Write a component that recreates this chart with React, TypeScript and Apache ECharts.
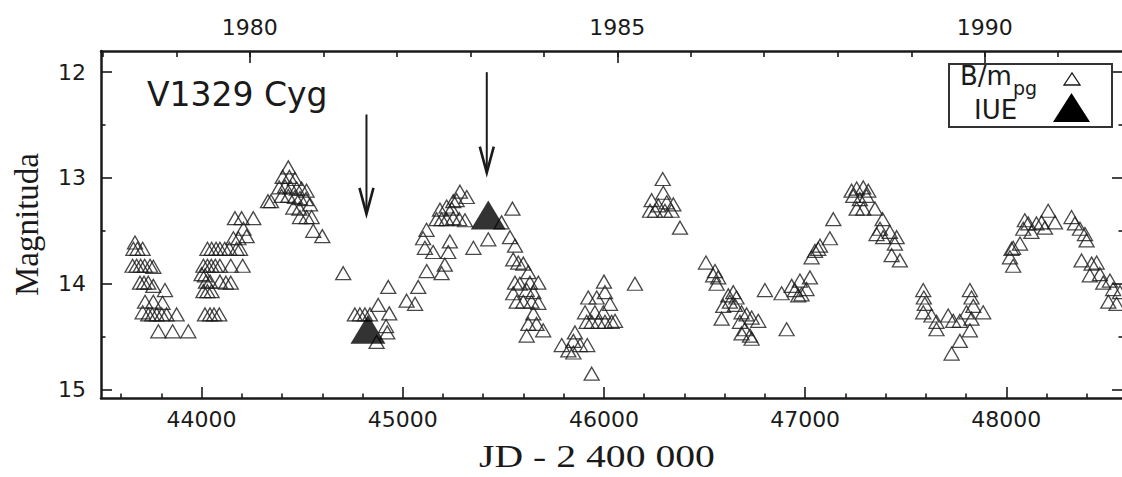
import React, { useEffect, useRef } from "react";
import * as echarts from "echarts";

// B / m_pg photometry, grouped by light-curve cycle: [JD - 2400000, magnitude]
const cycleA = [[43669,13.61],[43661,13.67],[43681,13.67],[43707,13.67],[43657,13.83],[43677,13.83],[43697,13.83],[43717,13.83],[43744,13.83],[43760,13.84],[43694,13.99],[43714,13.99],[43735,13.99],[43760,14.02],[43818,14.06],[43719,14.17],[43760,14.17],[43806,14.18],[43707,14.27],[43735,14.29],[43755,14.29],[43777,14.29],[43802,14.29],[43826,14.29],[43876,14.29],[43785,14.45],[43856,14.45],[43934,14.45]];
const cycleB = [[44017,14.29],[44042,14.29],[44062,14.29],[44088,14.29],[44009,14.07],[44029,14.07],[44050,14.07],[44000,13.91],[44017,13.92],[44022,13.98],[44042,13.98],[44091,13.98],[44121,13.99],[44145,13.99],[44009,13.83],[44029,13.83],[44048,13.83],[44068,13.83],[44091,13.83],[44145,13.83],[44204,13.83],[44029,13.67],[44050,13.67],[44072,13.67],[44091,13.67],[44115,13.67],[44138,13.67],[44174,13.67],[44191,13.67],[44158,13.57],[44183,13.57],[44224,13.55],[44208,13.48],[44166,13.38],[44199,13.38],[44257,13.38]];
const cycleC = [[44431,12.90],[44403,12.99],[44436,12.99],[44464,13.01],[44386,13.09],[44415,13.08],[44443,13.09],[44473,13.10],[44497,13.10],[44522,13.12],[44398,13.17],[44431,13.17],[44464,13.18],[44489,13.19],[44519,13.20],[44330,13.22],[44345,13.22],[44456,13.28],[44486,13.29],[44489,13.37],[44522,13.37],[44539,13.25],[44547,13.37],[44555,13.50],[44600,13.55],[44704,13.90]];
const cycleD = [[44762,14.29],[44787,14.29],[44812,14.29],[44837,14.29],[44878,14.20],[44928,14.03],[44933,14.28],[44917,14.40],[44923,14.46],[44870,14.55],[45019,14.16],[45061,14.19],[45077,14.03],[45119,13.88],[45193,13.90],[45209,13.82],[45110,13.66],[45151,13.70],[45226,13.70],[45234,13.60],[45101,13.57],[45118,13.49],[45168,13.39],[45193,13.39],[45218,13.39],[45251,13.38],[45281,13.39],[45309,13.40],[45185,13.30],[45218,13.27],[45251,13.22],[45268,13.21],[45243,13.29],[45284,13.13],[45318,13.18],[45351,13.66],[45425,13.58],[45545,13.29]];
const cycleE = [[45491,13.42],[45533,13.56],[45558,13.64],[45549,13.77],[45574,13.80],[45599,13.81],[45624,13.89],[45632,13.99],[45674,13.99],[45558,13.99],[45582,14.00],[45616,14.06],[45649,14.08],[45549,14.09],[45566,14.17],[45599,14.17],[45640,14.17],[45674,14.18],[45649,14.28],[45624,14.38],[45665,14.38],[45698,14.44],[45616,14.49]];
const cycleF = [[45790,14.58],[45823,14.63],[45848,14.54],[45856,14.46],[45881,14.58],[45917,14.58],[45848,14.65],[45939,14.85],[45914,14.36],[45939,14.36],[45972,14.36],[46005,14.36],[46038,14.36],[46055,14.35],[45906,14.27],[45955,14.27],[45997,14.27],[46030,14.19],[45922,14.13],[45964,14.13],[46005,14.08],[46000,13.98],[46154,14.00]];
const cycleG = [[46292,13.01],[46295,13.14],[46237,13.21],[46270,13.26],[46312,13.23],[46345,13.25],[46229,13.31],[46254,13.31],[46303,13.31],[46336,13.31],[46378,13.47]];
const cycleH = [[46507,13.80],[46552,13.88],[46543,13.92],[46568,13.94],[46560,14.00],[46618,14.11],[46643,14.08],[46659,14.13],[46593,14.21],[46626,14.17],[46651,14.20],[46585,14.33],[46684,14.27],[46709,14.29],[46734,14.32],[46767,14.35],[46676,14.36],[46701,14.43],[46684,14.47],[46726,14.49],[46734,14.52]];
const cycleI = [[46800,14.06],[46883,14.09],[46908,14.43],[46933,14.02],[46949,14.06],[46966,14.11],[46974,13.97],[46982,14.10],[47007,14.05],[47024,13.94],[47032,13.75],[47049,13.69],[47065,13.67],[47074,13.64],[47123,13.57],[47140,13.39]];
const cycleJ = [[47231,13.12],[47256,13.10],[47289,13.09],[47314,13.12],[47239,13.17],[47272,13.20],[47305,13.17],[47256,13.29],[47289,13.29],[47347,13.29],[47385,13.39],[47372,13.48],[47355,13.53],[47388,13.56],[47421,13.51],[47455,13.56],[47446,13.62],[47430,13.73],[47471,13.78]];
const cycleK = [[47587,14.06],[47590,14.13],[47595,14.19],[47587,14.27],[47628,14.30],[47653,14.36],[47653,14.43],[47711,14.30],[47736,14.35],[47769,14.35],[47819,14.06],[47827,14.13],[47836,14.21],[47802,14.27],[47827,14.33],[47885,14.27],[47819,14.44],[47769,14.54],[47728,14.66]];
const cycleL = [[48018,13.75],[48034,13.83],[48034,13.66],[48068,13.62],[48026,13.67],[48092,13.40],[48084,13.48],[48125,13.51],[48109,13.43],[48150,13.43],[48175,13.42],[48192,13.47],[48208,13.31],[48242,13.42],[48324,13.37],[48341,13.43],[48366,13.48],[48391,13.53],[48399,13.59]];
const cycleM = [[48374,13.78],[48424,13.81],[48449,13.80],[48415,13.92],[48465,13.91],[48482,13.99],[48515,13.97],[48531,14.05],[48507,14.17],[48548,14.19],[48565,14.08]];

// IUE observation epochs
const iueJD = [44827, 45425];
const iueMag = [14.43, 13.35];
// arrows above the IUE epochs (top and tip magnitude)
const arrowTopMag = [12.40, 12.00];
const arrowTipMag = [13.34, 12.95];

// axes
const X_MIN = 43500, X_MAX = 48580;
const Y_MIN = 11.8, Y_MAX = 15.08;
const jdMajorTicks = [44000, 45000, 46000, 47000, 48000];
const jdMinorTicks = [43600, 43800, 44200, 44400, 44600, 44800, 45200, 45400, 45600, 45800, 46200, 46400, 46600, 46800, 47200, 47400, 47600, 47800, 48200, 48400];
const years = [1978, 1979, 1980, 1981, 1982, 1983, 1984, 1985, 1986, 1987, 1988, 1989, 1990, 1991];
const yearStartJD = [43509.5, 43874.5, 44239.5, 44605.5, 44970.5, 45335.5, 45700.5, 46066.5, 46431.5, 46796.5, 47161.5, 47527.5, 47892.5, 48257.5];
const labelYears = [1980, 1985, 1990];
const magMajorTicks = [12, 13, 14, 15];
const magMinorTicks = [12.5, 13.5, 14.5];
const xAxisTitle = "JD - 2 400 000";
const yAxisTitle = "Magnituda";

const INK = "#1a1a1a";
const SANS = "DejaVu Sans";
const SERIF = "Liberation Serif";

export default function App() {
  const ref = useRef<HTMLDivElement>(null);
  useEffect(() => {
    if (!ref.current) return;
    const chart = echarts.init(ref.current, null, { renderer: "svg" });
    const labelJD = labelYears.map((y) => yearStartJD[years.indexOf(y)]);
    const bData = [...cycleA, ...cycleB, ...cycleC, ...cycleD, ...cycleE, ...cycleF, ...cycleG, ...cycleH, ...cycleI, ...cycleJ, ...cycleK, ...cycleL, ...cycleM];
    const iueData = iueJD.map((j, i) => [j, iueMag[i]]);
    const line = { color: INK, width: 2.5 };
    const tickStyle = { color: INK, width: 1.6 };
    const baseX = { type: "value", min: X_MIN, max: X_MAX, splitLine: { show: false } };
    const baseY = { type: "value", inverse: true, min: Y_MIN, max: Y_MAX, splitLine: { show: false } };
    const labelStyle = { fontFamily: SANS, fontSize: 22, color: INK };
    const option: any = {
      animation: false,
      backgroundColor: "#fff",
      title: {
        text: "V1329 Cyg",
        left: 147,
        top: 78,
        padding: 0,
        textStyle: { fontFamily: SANS, fontSize: 33, fontWeight: "normal", color: INK },
      },
      grid: { left: 101, top: 51, width: 1022, height: 347, containLabel: false, outerBoundsMode: "none" },
      xAxis: [
        {
          ...baseX,
          position: "bottom",
          axisLine: { show: true, onZero: false, lineStyle: line },
          axisTick: { show: true, inside: true, length: 11, customValues: jdMajorTicks, lineStyle: tickStyle },
          axisLabel: { show: true, customValues: jdMajorTicks, margin: 10, ...labelStyle, formatter: (v: number) => String(v) },
        },
        {
          ...baseX,
          position: "bottom",
          axisLine: { show: false, onZero: false },
          axisTick: { show: true, inside: true, length: 4.5, customValues: jdMinorTicks, lineStyle: tickStyle },
          axisLabel: { show: false },
        },
        {
          ...baseX,
          position: "top",
          axisLine: { show: true, onZero: false, lineStyle: line },
          axisTick: { show: true, inside: true, length: 6, customValues: yearStartJD, lineStyle: tickStyle },
          axisLabel: { show: false },
        },
        {
          ...baseX,
          position: "top",
          axisLine: { show: false, onZero: false },
          axisTick: { show: true, inside: true, length: 12, customValues: labelJD, lineStyle: tickStyle },
          axisLabel: {
            show: true,
            customValues: labelJD,
            margin: 13,
            ...labelStyle,
            formatter: (v: number) => String(years[yearStartJD.indexOf(v)] ?? ""),
          },
        },
      ],
      yAxis: [
        {
          ...baseY,
          position: "left",
          axisLine: { show: true, onZero: false, lineStyle: line },
          axisTick: { show: true, inside: true, length: 11, customValues: magMajorTicks, lineStyle: tickStyle },
          axisLabel: { show: true, customValues: magMajorTicks, margin: 15, ...labelStyle },
          name: yAxisTitle,
          nameLocation: "middle",
          nameRotate: 90,
          nameGap: 58,
          nameTextStyle: { fontFamily: SERIF, fontSize: 33, color: INK },
        },
        {
          ...baseY,
          position: "left",
          axisLine: { show: false, onZero: false },
          axisTick: { show: true, inside: true, length: 4.5, customValues: magMinorTicks, lineStyle: tickStyle },
          axisLabel: { show: false },
        },
        {
          ...baseY,
          position: "right",
          axisLine: { show: true, onZero: false, lineStyle: line },
          axisTick: { show: true, inside: true, length: 11, customValues: magMajorTicks, lineStyle: tickStyle },
          axisLabel: { show: false },
        },
        {
          ...baseY,
          position: "right",
          axisLine: { show: false, onZero: false },
          axisTick: { show: true, inside: true, length: 4.5, customValues: magMinorTicks, lineStyle: tickStyle },
          axisLabel: { show: false },
        },
      ],
      series: [
        {
          name: "B/mpg",
          type: "scatter",
          xAxisIndex: 0,
          yAxisIndex: 0,
          data: bData,
          symbol: "triangle",
          symbolSize: [15, 13],
          silent: true,
          itemStyle: { color: "rgba(0,0,0,0)", borderColor: INK, borderWidth: 1.3 },
          z: 2,
        },
        {
          name: "IUE",
          type: "scatter",
          xAxisIndex: 0,
          yAxisIndex: 0,
          data: iueData,
          symbol: "triangle",
          symbolSize: [35, 29],
          silent: true,
          itemStyle: { color: "#000" },
          z: 3,
        },
      ],
    };
    chart.setOption(option);

    const graphics: any[] = [];
    iueJD.forEach((jd, i) => {
      const top = chart.convertToPixel({ xAxisIndex: 0, yAxisIndex: 0 }, [jd, arrowTopMag[i]]) as number[];
      const tip = chart.convertToPixel({ xAxisIndex: 0, yAxisIndex: 0 }, [jd, arrowTipMag[i]]) as number[];
      const x = top[0] - 1.5;
      graphics.push({
        type: "line",
        silent: true,
        shape: { x1: x, y1: top[1], x2: x, y2: tip[1] - 1 },
        style: { stroke: INK, lineWidth: 2 },
        z: 10,
      });
      graphics.push({
        type: "polyline",
        silent: true,
        shape: { points: [[x - 7, tip[1] - 26], [x, tip[1]], [x + 7, tip[1] - 26]] },
        style: { stroke: INK, lineWidth: 2.6, fill: null },
        z: 10,
      });
    });
    // x-axis title (stretched serif like the original)
    const gl = chart.convertToPixel({ xAxisIndex: 0, yAxisIndex: 0 }, [X_MIN, Y_MAX]) as number[];
    graphics.push({
      type: "text",
      silent: true,
      x: 597,
      y: gl[1] + 59,
      scaleX: 1.28,
      style: { text: xAxisTitle, fontFamily: SERIF, fontSize: 31, fill: INK, align: "center", verticalAlign: "middle" },
      z: 5,
    });
    // legend box
    graphics.push(
      {
        type: "rect",
        silent: true,
        shape: { x: 949, y: 64, width: 163, height: 63 },
        style: { fill: "#fff", stroke: "#333", lineWidth: 2 },
        z: 20,
      },
      {
        type: "text",
        silent: true,
        x: 960,
        y: 76,
        style: { text: "B/m", fontFamily: SANS, fontSize: 26, fill: INK, verticalAlign: "middle", align: "left" },
        z: 21,
      },
      {
        type: "text",
        silent: true,
        x: 1013,
        y: 88,
        style: { text: "pg", fontFamily: SANS, fontSize: 19, fill: INK, verticalAlign: "middle", align: "left" },
        z: 21,
      },
      {
        type: "text",
        silent: true,
        x: 974,
        y: 110,
        style: { text: "IUE", fontFamily: SANS, fontSize: 26, fill: INK, verticalAlign: "middle", align: "left" },
        z: 21,
      },
      {
        type: "polygon",
        silent: true,
        shape: { points: [[1064, 85], [1080, 85], [1072, 73]] },
        style: { fill: "#fff", stroke: INK, lineWidth: 1.3 },
        z: 21,
      },
      {
        type: "polygon",
        silent: true,
        shape: { points: [[1053, 122], [1090, 122], [1071.5, 93]] },
        style: { fill: "#000" },
        z: 21,
      }
    );
    chart.setOption({ graphic: graphics });

    return () => chart.dispose();
  }, []);
  return (
    <div
      ref={ref}
      style={{ position: "fixed", left: 0, top: 0, width: 1122, height: 477, background: "#fff" }}
    />
  );
}
